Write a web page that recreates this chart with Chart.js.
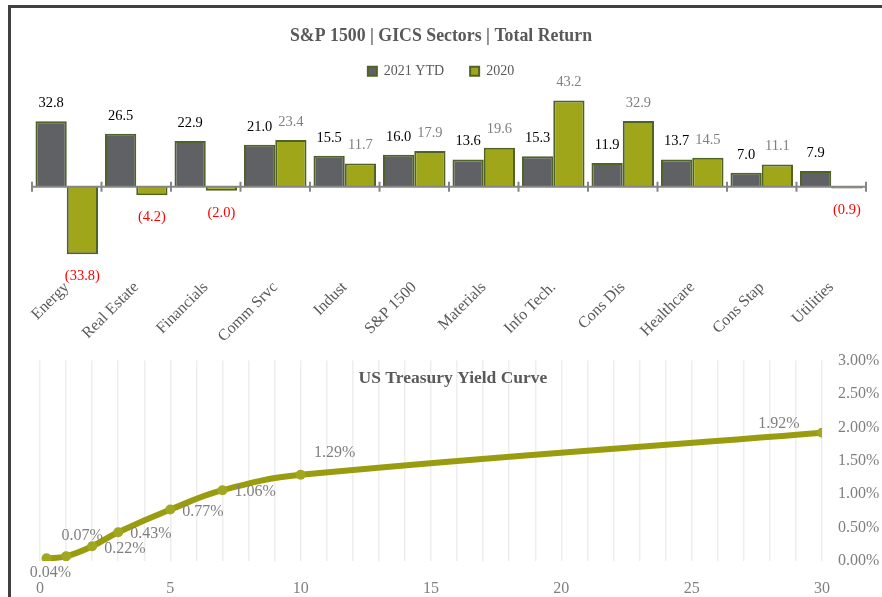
<!DOCTYPE html>
<html>
<head>
<meta charset="utf-8">
<script src="https://cdn.jsdelivr.net/npm/chart.js"></script>
<style>
  body { margin: 0; background: #fff; }
  #wrap { position: relative; width: 882px; height: 597px; overflow: hidden; }
  #frame { position: absolute; left: 8px; top: 5px; width: 900px; height: 620px; border-top: 3px solid #404040; border-left: 3px solid #404040; }
  #sectors { position: absolute; left: 0; top: 0; }
  #curve { position: absolute; left: 0; top: 335px; }
</style>
</head>
<body>
<div id="wrap">
  <div id="frame"></div>
  <canvas id="sectors" width="882" height="360" style="width:882px;height:360px"></canvas>
  <canvas id="curve" width="882" height="262" style="width:882px;height:262px"></canvas>
</div>
<script>
let sectors = ["Energy", "Real Estate", "Financials", "Comm Srvc", "Indust", "S&P 1500",
  "Materials", "Info Tech.", "Cons Dis", "Healthcare", "Cons Stap", "Utilities"];
let ytd2021 = [32.8, 26.5, 22.9, 21.0, 15.5, 16.0, 13.6, 15.3, 11.9, 13.7, 7.0, 7.9];
let ret2020 = [-33.8, -4.2, -2.0, 23.4, 11.7, 17.9, 19.6, 43.2, 32.9, 14.5, 11.1, -0.9];

let maturities = [0.25, 1, 2, 3, 5, 7, 10, 30];
let yields = [0.04, 0.07, 0.22, 0.43, 0.77, 1.06, 1.29, 1.92];
let yieldLabelSide = ["below", "above", "right", "right", "right", "right", "aboveRight", "aboveLeft"];

Chart.defaults.font.family = "'Liberation Serif', serif";

// gray zero line with the little tick marks between the sectors
const zeroLine = {
  id: 'zeroLine',
  afterDatasetsDraw(chart) {
    const ctx = chart.ctx;
    const x = chart.scales.x, y = chart.scales.y;
    const y0 = y.getPixelForValue(0);
    const step = (x.right - x.left) / sectors.length;
    ctx.save();
    ctx.strokeStyle = '#868686';
    ctx.lineWidth = 2;
    ctx.beginPath();
    ctx.moveTo(x.left, y0);
    ctx.lineTo(x.right, y0);
    for (let i = 0; i <= sectors.length; i++) {
      let px = x.left + i * step;
      ctx.moveTo(px, y0 - 5);
      ctx.lineTo(px, y0 + 5);
    }
    ctx.stroke();
    ctx.restore();
  }
};

const barLabels = {
  id: 'barLabels',
  afterDatasetsDraw(chart) {
    const ctx = chart.ctx;
    ctx.save();
    ctx.font = "14.5px 'Liberation Serif'";
    ctx.textAlign = 'center';
    ctx.textBaseline = 'middle';
    chart.data.datasets.forEach((ds, di) => {
      chart.getDatasetMeta(di).data.forEach((bar, i) => {
        let v = ds.data[i];
        let txt, ty;
        if (v < 0) {
          txt = '(' + Math.abs(v).toFixed(1) + ')';
          ctx.fillStyle = '#ff0000';
          ty = bar.y + 22;
        } else {
          txt = v.toFixed(1);
          ctx.fillStyle = di === 0 ? '#000000' : '#7f7f7f';
          ty = bar.y - 18;
        }
        ctx.fillText(txt, bar.x, ty);
      });
    });
    ctx.restore();
  }
};

new Chart("sectors", {
  type: "bar",
  data: {
    labels: sectors,
    datasets: [{
      label: "2021 YTD",
      data: ytd2021,
      backgroundColor: "#606165",
      borderColor: "#4f6228",
      borderWidth: 2
    }, {
      label: "2020",
      data: ret2020,
      backgroundColor: "#9fa619",
      borderColor: "#4f6228",
      borderWidth: 2
    }]
  },
  options: {
    responsive: false,
    animation: false,
    layout: {padding: {left: 16, right: 16, top: 0, bottom: 0}},
    categoryPercentage: 0.9,
    barPercentage: 1.0,
    plugins: {
      title: {
        display: true,
        text: "S&P 1500 | GICS Sectors | Total Return",
        color: "#595959",
        font: {size: 17.8, weight: "bold"},
        padding: {top: 26, bottom: -9}
      },
      legend: {
        labels: {boxWidth: 9, boxHeight: 9, color: "#595959", font: {size: 14}, padding: 26}
      },
      tooltip: {enabled: false}
    },
    scales: {
      x: {
        grid: {display: false, drawTicks: false},
        border: {display: false},
        ticks: {minRotation: 45, maxRotation: 45, color: "#595959", font: {size: 16}, padding: 3},
        afterFit(s) { s.height = 85; }
      },
      y: {
        min: -44.2,
        max: 49.3,
        grid: {display: false, drawTicks: false},
        border: {display: false},
        ticks: {display: false},
        afterFit(s) { s.width = 16; }
      }
    }
  },
  plugins: [zeroLine, barLabels]
});

const curveText = {
  id: 'curveText',
  afterDatasetsDraw(chart) {
    const ctx = chart.ctx;
    const area = chart.chartArea;
    ctx.save();
    ctx.fillStyle = '#595959';
    ctx.font = "bold 17.5px 'Liberation Serif'";
    ctx.textAlign = 'center';
    ctx.textBaseline = 'middle';
    ctx.fillText("US Treasury Yield Curve", (area.left + chart.width) / 2 - 8, area.top + 18);

    ctx.font = "16px 'Liberation Serif'";
    ctx.fillStyle = '#7f7f7f';
    chart.getDatasetMeta(0).data.forEach((pt, i) => {
      let txt = yields[i].toFixed(2) + '%';
      let side = yieldLabelSide[i];
      let dx = 0, dy = 0;
      ctx.textAlign = 'center';
      if (side === 'below') { dx = 4; dy = 14; }
      else if (side === 'above') { dx = 16; dy = -21; }
      else if (side === 'aboveRight') { dx = 34; dy = -22; }
      else if (side === 'aboveLeft') { dx = -43; dy = -9; }
      else if (side === 'right') { ctx.textAlign = 'left'; dx = 12; dy = 2; }
      ctx.fillText(txt, pt.x + dx, pt.y + dy);
    });
    ctx.restore();
  }
};

new Chart("curve", {
  type: "line",
  data: {
    datasets: [{
      data: maturities.map((m, i) => ({x: m, y: yields[i]})),
      borderColor: "#999c0e",
      backgroundColor: "#a2a720",
      borderWidth: 6,
      pointRadius: 5,
      pointBorderWidth: 0,
      tension: 0.4,
      fill: false
    }]
  },
  options: {
    responsive: false,
    animation: false,
    layout: {padding: {left: 40, right: 0, top: 5, bottom: 0}},
    plugins: {legend: {display: false}, tooltip: {enabled: false}},
    scales: {
      x: {
        type: "linear",
        min: 0,
        max: 30,
        grid: {color: "#eeeeee", lineWidth: 1.5, drawTicks: false},
        border: {display: false},
        ticks: {
          stepSize: 1,
          autoSkip: false,
          maxRotation: 0,
          color: "#7f7f7f",
          font: {size: 16},
          padding: 18,
          callback: v => v % 5 === 0 ? v : ''
        },
        afterFit(s) { s.height = 36; }
      },
      y: {
        position: "right",
        min: 0,
        max: 3,
        grid: {display: false, drawTicks: false},
        border: {display: false},
        ticks: {
          stepSize: 0.5,
          color: "#7f7f7f",
          font: {size: 16},
          padding: 16,
          callback: v => v.toFixed(2) + '%'
        },
        afterFit(s) { s.width = 60; }
      }
    }
  },
  plugins: [curveText]
});
</script>
</body>
</html>
